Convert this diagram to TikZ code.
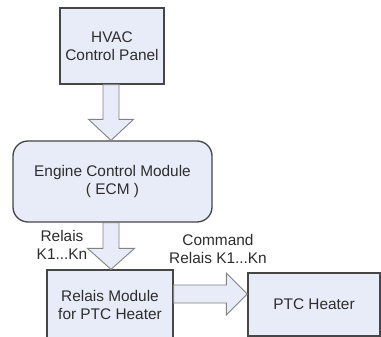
\documentclass[tikz,border=0pt]{standalone}
\usepackage{fontspec}
\setmainfont{Liberation Sans}
\usetikzlibrary{calc}
\definecolor{boxfill}{RGB}{232,236,248}
\definecolor{boxline}{RGB}{70,70,70}
\definecolor{arrline}{RGB}{130,130,130}
\definecolor{txt}{RGB}{45,45,45}
\begin{document}
\begin{tikzpicture}[x=1pt,y=-1pt,
  box/.style={draw=boxline,fill=boxfill,line width=1.3pt,align=center,text=txt,
    font=\fontsize{15.4}{18}\selectfont,inner sep=0pt},
  blockarrow/.style={draw=arrline,fill=boxfill,line width=0.9pt,line join=miter},
  lbl/.style={align=center,text=txt,font=\fontsize{15.4}{17.5}\selectfont,inner sep=0pt}]
\useasboundingbox (0,0) rectangle (381,337);
\fill[white] (0,0) rectangle (381,337);
\node[box,minimum width=104pt,minimum height=76pt] (hvac) at (112,46) {HVAC\\Control Panel};
\node[box,rounded corners=15pt,minimum width=199pt,minimum height=81pt] (ecm) at (112.5,181.5) {Engine Control Module\\( ECM )};
\node[box,minimum width=126pt,minimum height=70pt] (relais) at (110,305) {Relais Module\\for PTC Heater};
\node[box,minimum width=132pt,minimum height=63pt] (ptc) at (314,304.5) {PTC Heater};
% arrow HVAC -> ECM
\coordinate (a1s) at ($(hvac.south)+(-1,0)$);
\coordinate (a1e) at ($(ecm.north)+(-1.5,0)$);
\draw[blockarrow] ($(a1s)+(-8,0)$) -- ($(a1e)+(-8,-21)$) -- ($(a1e)+(-22.5,-21)$) -- (a1e)
  -- ($(a1e)+(22.5,-21)$) -- ($(a1e)+(8,-21)$) -- ($(a1s)+(8,0)$) -- cycle;
% arrow ECM -> Relais
\coordinate (a2s) at ($(ecm.south)+(-1.5,0)$);
\coordinate (a2e) at ($(relais.north)+(1,0)$);
\draw[blockarrow] ($(a2s)+(-8,0)$) -- ($(a2e)+(-8,-21)$) -- ($(a2e)+(-23.5,-21)$) -- (a2e)
  -- ($(a2e)+(23.5,-21)$) -- ($(a2e)+(8,-21)$) -- ($(a2s)+(8,0)$) -- cycle;
% arrow Relais -> PTC
\coordinate (a3s) at ($(relais.east)+(0,-11)$);
\coordinate (a3e) at ($(ptc.west)+(0,-10.5)$);
\draw[blockarrow] ($(a3s)+(0,-9)$) -- ($(a3e)+(-21,-9)$) -- ($(a3e)+(-21,-21)$) -- (a3e)
  -- ($(a3e)+(-21,21)$) -- ($(a3e)+(-21,9)$) -- ($(a3s)+(0,9)$) -- cycle;
\node[lbl] (l1) at (62,245) {Relais\\K1...Kn};
\node[lbl] (l2) at (218,249) {Command\\Relais K1...Kn};
\end{tikzpicture}
\end{document}
